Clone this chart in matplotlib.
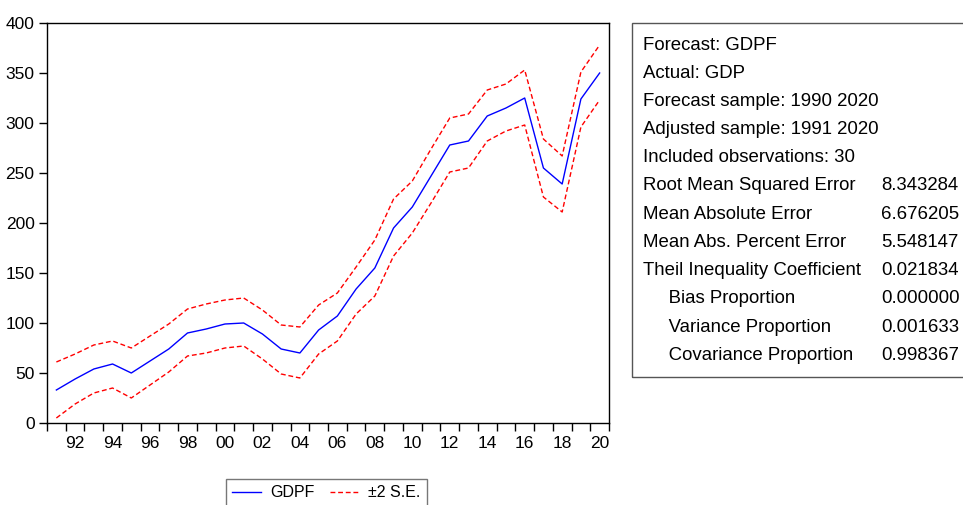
import numpy as np
import matplotlib
matplotlib.use("Agg")
from matplotlib import pyplot as plt
from matplotlib.patches import Rectangle

plt.rcParams['font.family'] = ['Liberation Sans', 'DejaVu Sans']

# forecast and +/- 2 S.E. bands, 1991-2020
years = np.arange(1991, 2021)
gdpf = [33, 44, 54, 59, 50, 62, 74, 90, 94, 99,
        100, 89, 74, 70, 93, 107, 134, 155, 195, 216,
        247, 278, 282, 307, 315, 325, 255, 239, 324, 350]
upper = [61, 69, 78, 82, 75, 87, 99, 114, 119, 123,
         125, 113, 98, 96, 118, 130, 156, 183, 224, 242,
         274, 305, 309, 333, 339, 353, 284, 267, 351, 378]
lower = [5, 19, 30, 35, 25, 38, 51, 67, 70, 75,
         77, 64, 49, 45, 69, 82, 109, 127, 167, 190,
         220, 251, 255, 282, 292, 298, 226, 211, 296, 323]

stat_names = ["Forecast: GDPF", "Actual: GDP", "Forecast sample: 1990 2020",
              "Adjusted sample: 1991 2020", "Included observations: 30",
              "Root Mean Squared Error", "Mean Absolute Error",
              "Mean Abs. Percent Error", "Theil Inequality Coefficient",
              "     Bias Proportion", "     Variance Proportion",
              "     Covariance Proportion"]
stat_values = ["", "", "", "", "", "8.343284", "6.676205", "5.548147",
               "0.021834", "0.000000", "0.001633", "0.998367"]

W, H = 963, 505
fig = plt.figure(figsize=(W / 100, H / 100), dpi=100)
ax = fig.add_axes([47 / W, 1 - 423 / H, 562 / W, 400 / H])

ax.plot(years, gdpf, color='blue', lw=1, label='GDPF')
ax.plot(years, upper, color='red', lw=1, ls=(0, (3.5, 2)), label='\u00b12 S.E.')
ax.plot(years, lower, color='red', lw=1, ls=(0, (3.5, 2)))

ax.set_xlim(1990.5, 2020.5)
ax.set_ylim(0, 400)
ax.set_yticks(np.arange(0, 401, 50))

# ticks at the year boundaries, labels centred on even years
ax.set_xticks(np.arange(1990.5, 2021, 1), minor=True)
even = np.arange(1992, 2021, 2)
ax.set_xticks(even)
ax.set_xticklabels(['%02d' % (y % 100) for y in even])
ax.tick_params(axis='x', which='major', length=0, labelsize=12.5, pad=9)
ax.tick_params(axis='x', which='minor', length=6, width=1, direction='out')
ax.tick_params(axis='y', length=6, width=1, labelsize=12.5, pad=3)
for s in ax.spines.values():
    s.set_linewidth(1)

handles, labels = ax.get_legend_handles_labels()
leg = fig.legend(handles[:2], labels[:2], loc='upper left', ncol=2,
                 bbox_to_anchor=(226 / W, 1 - 479 / H), bbox_transform=fig.transFigure,
                 frameon=True, fancybox=False, fontsize=11.5, handlelength=1.8,
                 handletextpad=0.55, columnspacing=1.0, borderpad=0.4,
                 borderaxespad=0)
leg.get_frame().set_edgecolor('#555555')
leg.get_frame().set_linewidth(1)

# statistics box
fig.add_artist(Rectangle((632 / W, 1 - 377 / H), 400 / W, 354 / H,
                         transform=fig.transFigure, fill=False,
                         edgecolor='#555555', lw=1))
y0, dy = 45, 28.2
for i, (name, val) in enumerate(zip(stat_names, stat_values)):
    y = 1 - (y0 + i * dy) / H
    fig.text(643 / W, y, name, fontsize=13.4, va='center', ha='left')
    if val:
        fig.text(881 / W, y, val, fontsize=13.4, va='center', ha='left')

fig.savefig('out.png', dpi=100)
